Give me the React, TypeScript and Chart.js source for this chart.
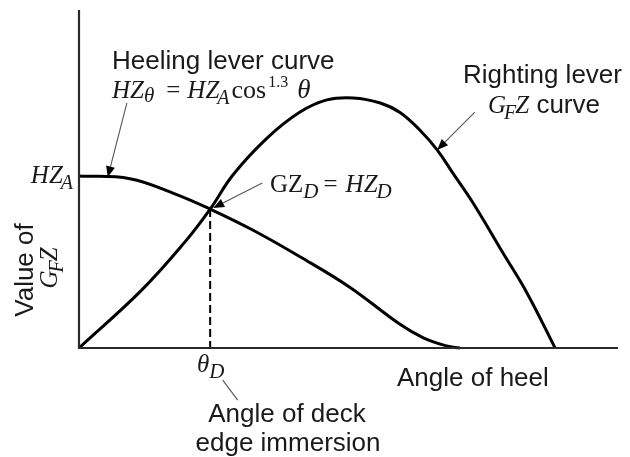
import React, { useEffect, useRef } from "react";
import { Chart, registerables } from "chart.js";

Chart.register(...registerables);

// Angle of heel (degrees) and lever values (fraction of axis height)
const heelAngles = [0, 8.5, 16.0, 21.9, 29.0, 36.9, 45.2, 53.6, 57.5, 61.4, 63.6];
const heelValues = [0.509, 0.501, 0.456, 0.411, 0.349, 0.27, 0.18, 0.07, 0.03, 0.006, 0];

const rightAngles = [0, 10.5, 17.7, 21.9, 25.7, 31.4, 36.9, 41.4, 45.8, 50.3, 53.6, 56.9, 59.8, 62.4, 65.8, 70.8, 74.8, 79.5];
const rightValues = [0, 0.172, 0.314, 0.411, 0.512, 0.621, 0.698, 0.734, 0.74, 0.725, 0.697, 0.645, 0.586, 0.518, 0.429, 0.281, 0.163, 0];

const deckAngle = 21.9;
const deckValue = 0.411;

const xMax = 90;
const yMax = 1;

// Annotation leader lines: [tailX, tailY, tipX, tipY, arrowhead]
const leaders: [number, number, number, number, boolean][] = [
  [8.0, 0.725, 4.8, 0.505, true],
  [30.6, 0.488, 22.4, 0.414, true],
  [66.1, 0.698, 59.8, 0.586, true],
  [24.0, -0.095, 26.5, -0.154, false],
];

const SANS = "'Liberation Sans', Arial, sans-serif";
const SERIF = "'Liberation Serif', 'Times New Roman', serif";

type Run = { t: string; f: string; dy?: number; dx?: number };

function runsWidth(ctx: CanvasRenderingContext2D, runs: Run[]) {
  let w = 0;
  for (const r of runs) {
    ctx.font = r.f;
    w += (r.dx || 0) + ctx.measureText(r.t).width;
  }
  return w;
}

function drawRuns(ctx: CanvasRenderingContext2D, x: number, y: number, runs: Run[]) {
  let cx = x;
  ctx.textAlign = "left";
  ctx.textBaseline = "alphabetic";
  for (const r of runs) {
    cx += r.dx || 0;
    ctx.font = r.f;
    ctx.fillText(r.t, cx, y + (r.dy || 0));
    cx += ctx.measureText(r.t).width;
  }
}

const it = (s: number) => `italic ${s}px ${SERIF}`;
const rm = (s: number) => `${s}px ${SERIF}`;
const sans = (s: number) => `${s}px ${SANS}`;

const annotations = {
  id: "annotations",
  afterDatasetsDraw(chart: any) {
    const { ctx, chartArea, scales } = chart;
    const xs = scales.x;
    const ys = scales.y;
    ctx.save();

    // axes
    ctx.strokeStyle = "#2a2a2a";
    ctx.lineWidth = 2.2;
    ctx.beginPath();
    ctx.moveTo(chartArea.left, chartArea.top);
    ctx.lineTo(chartArea.left, chartArea.bottom);
    ctx.lineTo(chartArea.right, chartArea.bottom);
    ctx.stroke();

    // leader lines and arrowheads
    for (const [tx, ty, hx, hy, head] of leaders) {
      const x1 = xs.getPixelForValue(tx);
      const y1 = ys.getPixelForValue(ty);
      const x2 = xs.getPixelForValue(hx);
      const y2 = ys.getPixelForValue(hy);
      const ang = Math.atan2(y2 - y1, x2 - x1);
      const len = 11;
      const hw = 4.5;
      ctx.strokeStyle = "#555";
      ctx.lineWidth = 1.1;
      ctx.beginPath();
      ctx.moveTo(x1, y1);
      if (head) {
        ctx.lineTo(x2 - Math.cos(ang) * len, y2 - Math.sin(ang) * len);
      } else {
        ctx.lineTo(x2, y2);
      }
      ctx.stroke();
      if (head) {
        const bx = x2 - Math.cos(ang) * len;
        const by = y2 - Math.sin(ang) * len;
        ctx.fillStyle = "#000";
        ctx.beginPath();
        ctx.moveTo(x2, y2);
        ctx.lineTo(bx + Math.sin(ang) * hw, by - Math.cos(ang) * hw);
        ctx.lineTo(bx - Math.sin(ang) * hw, by + Math.cos(ang) * hw);
        ctx.closePath();
        ctx.fill();
      }
    }

    ctx.fillStyle = "#1a1a1a";

    // Heeling lever curve label
    drawRuns(ctx, 112, 69, [{ t: "Heeling lever curve", f: sans(26) }]);
    drawRuns(ctx, 112, 98, [
      { t: "HZ", f: it(25) },
      { t: "θ", f: it(21), dy: 4 },
      { t: "=", f: rm(25), dx: 12 },
      { t: "HZ", f: it(25), dx: 7 },
      { t: "A", f: it(20), dy: 6, dx: -2 },
      { t: "cos", f: rm(26), dx: 2 },
      { t: "1.3", f: rm(16), dy: -11, dx: 2 },
      { t: "θ", f: it(27), dx: 9 },
    ]);

    // HZ_A on y-axis
    const hzA: Run[] = [
      { t: "HZ", f: it(25) },
      { t: "A", f: it(20), dy: 6, dx: -2 },
    ];
    drawRuns(ctx, xs.getPixelForValue(0) - 6 - runsWidth(ctx, hzA), 183, hzA);

    // GZ_D = HZ_D
    drawRuns(ctx, 270, 192, [
      { t: "GZ", f: rm(25) },
      { t: "D", f: it(21), dy: 6 },
      { t: "=", f: rm(25), dx: 5 },
      { t: "HZ", f: it(25), dx: 8 },
      { t: "D", f: it(21), dy: 6, dx: -1 },
    ]);

    // Righting lever label
    drawRuns(ctx, 463, 83, [{ t: "Righting lever", f: sans(26) }]);
    drawRuns(ctx, 488, 113, [
      { t: "G", f: it(25) },
      { t: "F", f: it(20), dy: 6, dx: -2 },
      { t: "Z", f: it(25), dx: -1 },
      { t: " curve", f: sans(26) },
    ]);

    // y-axis title (rotated)
    ctx.save();
    ctx.translate(33, 270);
    ctx.rotate(-Math.PI / 2);
    ctx.font = sans(26);
    ctx.textAlign = "center";
    ctx.fillText("Value of", 0, 0);
    const gfz: Run[] = [
      { t: "G", f: it(25) },
      { t: "F", f: it(20), dy: 6, dx: -2 },
      { t: "Z", f: it(25), dx: -1 },
    ];
    const w = runsWidth(ctx, gfz);
    drawRuns(ctx, -w / 2 + 2, 24, gfz);
    ctx.restore();

    // theta_D
    drawRuns(ctx, 197, 372, [
      { t: "θ", f: it(25) },
      { t: "D", f: it(21), dy: 6 },
    ]);

    // Angle of deck edge immersion
    ctx.font = sans(26);
    ctx.textAlign = "center";
    ctx.fillText("Angle of deck", 287, 422);
    ctx.fillText("edge immersion", 288, 451);

    // Angle of heel
    ctx.textAlign = "left";
    ctx.fillText("Angle of heel", 397, 386);

    ctx.restore();
  },
};

export default function App() {
  const ref = useRef<HTMLCanvasElement>(null);

  useEffect(() => {
    if (!ref.current) return;
    const chart = new Chart(ref.current, {
      type: "line",
      data: {
        datasets: [
          {
            label: "Heeling lever",
            data: heelAngles.map((a, i) => ({ x: a, y: heelValues[i] })),
            borderColor: "#000",
            borderWidth: 3,
            pointRadius: 0,
            tension: 0.4,
            fill: false,
          },
          {
            label: "Righting lever",
            data: rightAngles.map((a, i) => ({ x: a, y: rightValues[i] })),
            borderColor: "#000",
            borderWidth: 3,
            pointRadius: 0,
            tension: 0.4,
            fill: false,
          },
          {
            label: "Deck edge",
            data: [
              { x: deckAngle, y: deckValue },
              { x: deckAngle, y: 0 },
            ],
            borderColor: "#000",
            borderWidth: 2,
            borderDash: [8, 4],
            pointRadius: 0,
            fill: false,
          },
        ],
      },
      options: {
        responsive: false,
        animation: false,
        devicePixelRatio: 1,
        clip: false as any,
        layout: { padding: { left: 79, top: 10, right: 12, bottom: 109 } },
        scales: {
          x: { type: "linear", min: 0, max: xMax, display: false },
          y: { type: "linear", min: 0, max: yMax, display: false },
        },
        plugins: {
          legend: { display: false },
          tooltip: { enabled: false },
        },
      },
      plugins: [annotations],
    });
    return () => chart.destroy();
  }, []);

  return (
    <div style={{ position: "absolute", left: 0, top: 0, width: 630, height: 457, background: "#fff" }}>
      <canvas ref={ref} width={630} height={457} />
    </div>
  );
}
